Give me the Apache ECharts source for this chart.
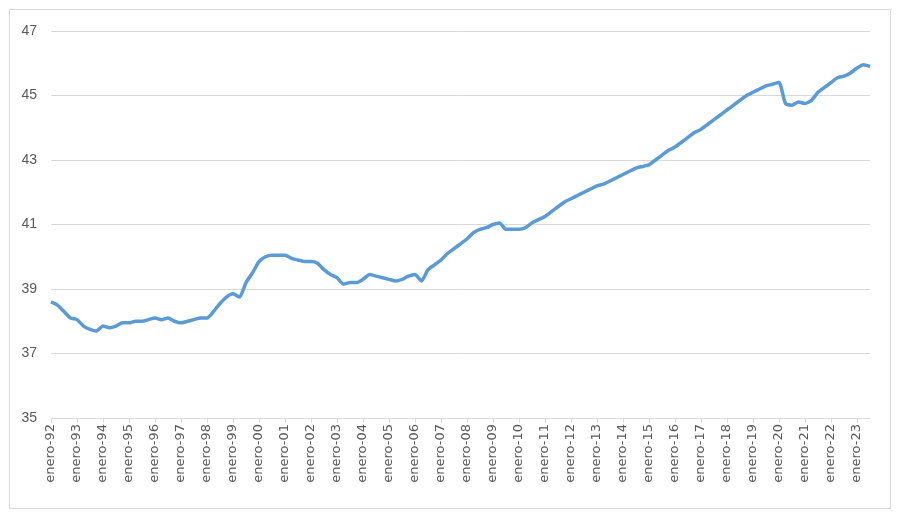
<!DOCTYPE html>
<html>
<head>
<meta charset="utf-8">
<script src="https://cdn.jsdelivr.net/npm/echarts@6/dist/echarts.min.js"></script>
<style>
  html, body { margin: 0; padding: 0; background: #fff; }
  #frame { position: absolute; left: 9px; top: 9px; width: 880px; height: 498px; border: 1px solid #d9d9d9; }
  #chart { width: 901px; height: 519px; }
</style>
</head>
<body>
<div id="frame"></div>
<div id="chart"></div>
<script>
// quarterly readings (enero, abril, julio, octubre)
const years = [92, 93, 94, 95, 96, 97, 98, 99, 0, 1, 2, 3, 4, 5, 6, 7, 8, 9, 10, 11, 12, 13, 14, 15, 16, 17, 18, 19, 20, 21, 22, 23];
const monthNames = ['enero', 'abril', 'julio', 'octubre'];
const values = [
  38.6, 38.5, 38.3, 38.1,
  38.05, 37.85, 37.75, 37.7,
  37.85, 37.8, 37.85, 37.95,
  37.95, 38.0, 38.0, 38.05,
  38.1, 38.05, 38.1, 38.0,
  37.95, 38.0, 38.05, 38.1,
  38.1, 38.3, 38.55, 38.75,
  38.85, 38.75, 39.2, 39.5,
  39.85, 40.0, 40.05, 40.05,
  40.05, 39.95, 39.9, 39.85,
  39.85, 39.8, 39.6, 39.45,
  39.35, 39.15, 39.2, 39.2,
  39.3, 39.45, 39.4, 39.35,
  39.3, 39.25, 39.3, 39.4,
  39.45, 39.25, 39.6, 39.75,
  39.9, 40.1, 40.25, 40.4,
  40.55, 40.75, 40.85, 40.9,
  41.0, 41.05, 40.85, 40.85,
  40.85, 40.9, 41.05, 41.15,
  41.25, 41.4, 41.55, 41.7,
  41.8, 41.9, 42.0, 42.1,
  42.2, 42.25, 42.35, 42.45,
  42.55, 42.65, 42.75, 42.8,
  42.85, 43.0, 43.15, 43.3,
  43.4, 43.55, 43.7, 43.85,
  43.95, 44.1, 44.25, 44.4,
  44.55, 44.7, 44.85, 45.0,
  45.1, 45.2, 45.3, 45.35,
  45.4, 44.75, 44.7, 44.8,
  44.75, 44.85, 45.1, 45.25,
  45.4, 45.55, 45.6, 45.7,
  45.85, 45.95, 45.9
];

const categories = values.map((v, i) => {
  const y = years[Math.floor(i / 4)];
  return monthNames[i % 4] + '-' + String(y).padStart(2, '0');
});

const chart = echarts.init(document.getElementById('chart'));
chart.setOption({
  animation: false,
  grid: { left: 51, right: 31, top: 31, bottom: 101 },
  xAxis: {
    type: 'category',
    data: categories,
    boundaryGap: false,
    axisLine: { lineStyle: { color: '#d9d9d9' } },
    axisTick: { interval: 3, lineStyle: { color: '#d9d9d9' } },
    axisLabel: {
      interval: 3, rotate: 90, color: '#595959', fontSize: 13,
      fontFamily: 'DejaVu Sans', margin: 6
    }
  },
  yAxis: {
    type: 'value',
    min: 35, max: 47, interval: 2,
    axisLine: { show: false },
    axisTick: { show: false },
    splitLine: { lineStyle: { color: '#d9d9d9' } },
    axisLabel: { color: '#595959', fontSize: 14, fontFamily: 'Liberation Sans', margin: 14 }
  },
  series: [{
    type: 'line',
    data: values,
    showSymbol: false,
    smooth: 0.2,
    lineStyle: { color: '#5b9bd5', width: 3.5 }
  }]
});
</script>
</body>
</html>
